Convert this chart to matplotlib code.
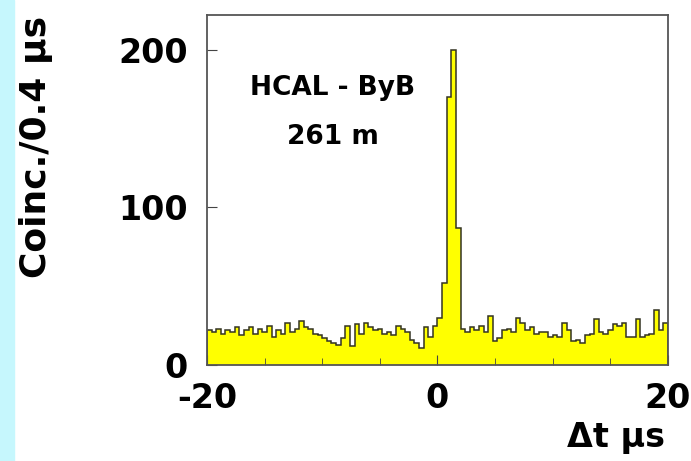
import numpy as np
import matplotlib
matplotlib.use("Agg")
import matplotlib.pyplot as plt

plt.rcParams["axes.unicode_minus"] = False

# coincidence counts per 0.4 us bin, from -20 to +20 us
counts = [22, 21, 23, 20, 22, 21, 24, 19, 22, 24,
          20, 23, 21, 25, 18, 22, 20, 27, 21, 23,
          28, 24, 23, 20, 19, 17, 15, 14, 13, 17,
          25, 12, 26, 20, 27, 24, 22, 23, 20, 21,
          19, 25, 23, 21, 16, 14, 11, 24, 18, 25,
          30, 52, 170, 200, 87, 23, 21, 24, 22, 25,
          21, 31, 15, 17, 22, 23, 21, 30, 27, 22,
          24, 20, 21, 21, 18, 19, 18, 27, 22, 15,
          16, 14, 19, 20, 29, 21, 20, 22, 26, 25,
          27, 18, 18, 29, 18, 19, 20, 35, 22, 27]
t_min, t_max = -20, 20
edges = np.linspace(t_min, t_max, len(counts) + 1)

fig = plt.figure(figsize=(6.91, 4.61), dpi=100)
fig.patch.set_facecolor("white")
# light cyan strip down the left edge
fig.add_artist(plt.Rectangle((0, 0), 0.02, 1, transform=fig.transFigure,
                             color="#c6f7fd", zorder=0))

ax = fig.add_axes([0.2996, 0.208, 0.667, 0.759])
ax.stairs(counts, edges, fill=True, color="#ffff00", zorder=1)
ax.stairs(counts, edges, color="#333322", linewidth=1.1, zorder=2)

ax.set_xlim(t_min, t_max)
ax.set_ylim(0, 222)
ax.set_xticks([-20, 0, 20])
ax.set_xticks([-15, -10, -5, 5, 10, 15], minor=True)
ax.set_yticks([0, 100, 200])
ax.tick_params(axis="both", which="both", direction="in", color="#444444")
ax.tick_params(axis="x", which="major", length=7, pad=12)
ax.tick_params(axis="x", which="minor", length=5)
ax.tick_params(axis="y", which="major", length=7, pad=14)
ax.tick_params(labelsize=24)
for lab in ax.get_xticklabels() + ax.get_yticklabels():
    lab.set_fontweight("bold")
for side in ax.spines.values():
    side.set_color("#555555")
    side.set_linewidth(1.3)

ax.text(-9.1, 176, "HCAL - ByB", fontsize=19, fontweight="semibold",
        ha="center", va="center")
ax.text(-9.1, 145, "261 m", fontsize=19, fontweight="semibold",
        ha="center", va="center")

fig.text(0.962, 0.03, "Δt μs", fontsize=24, fontweight="bold", ha="right", va="baseline")
fig.text(0.052, 0.965, "Coinc./0.4 μs", fontsize=26, fontweight="bold",
         rotation=90, ha="center", va="top")

fig.savefig("out.png", dpi=100)
